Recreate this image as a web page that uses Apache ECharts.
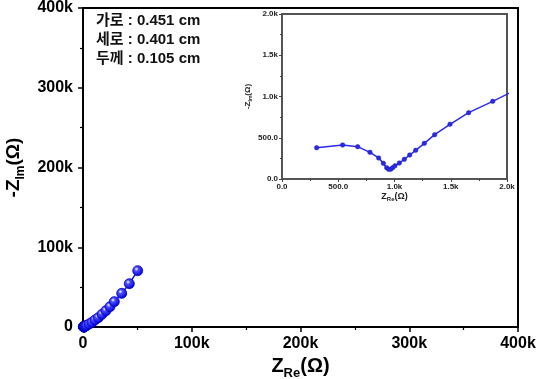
<!DOCTYPE html>
<html>
<head>
<meta charset="utf-8">
<script src="https://cdn.jsdelivr.net/npm/echarts@6/dist/echarts.min.js"></script>
<style>html,body{margin:0;padding:0;background:#fff;}#c{width:539px;height:379px;}</style>
</head>
<body>
<div id="c"></div>
<script>
// Impedance data (Ω): Z_Re and -Z_Im
const zRe = [308, 539, 673, 782, 859, 901, 930, 948, 966, 984, 1004, 1043, 1087, 1135, 1188, 1265, 1357, 1493, 1659, 1873, 2400,
  3400, 5800, 8300, 11000, 14100, 17500, 21100, 24800, 28800, 35600, 42600, 50300];
const zIm = [379, 412, 392, 323, 255, 190, 137, 117, 118, 137, 160, 194, 238, 291, 347, 432, 537, 663, 804, 941, 1300,
  2100, 3800, 5900, 8800, 11700, 15900, 20500, 25500, 31800, 42200, 54300, 70600];
const mainTicks = [0, 100000, 200000, 300000, 400000];
const insetTicks = [0, 500, 1000, 1500, 2000];
const sampleInfo = ['가로 : 0.451 cm', '세로 : 0.401 cm', '두께 : 0.105 cm'];

const pts = zRe.map((x, i) => [x, zIm[i]]);
const FONT = 'Liberation Sans, Arial, "Noto Sans CJK KR", sans-serif';
const mainFmt = v => v === 0 ? '0' : (v / 1000) + 'k';
const insetFmt = v => v === 0 ? '0.0' : (v < 1000 ? v.toFixed(1) : (v / 1000).toFixed(1) + 'k');

const ball = {
  type: 'radial', x: 0.38, y: 0.35, r: 0.65,
  colorStops: [{offset: 0, color: '#ffffff'}, {offset: 0.3, color: '#4a4aff'}, {offset: 1, color: '#0000d8'}]
};

const chart = echarts.init(document.getElementById('c'), null, {renderer: 'canvas'});
chart.setOption({
  animation: false,
  backgroundColor: '#fff',
  grid: [
    {left: 83, top: 8, width: 435, height: 319, show: true, borderColor: '#000', borderWidth: 2, backgroundColor: 'transparent',
      containLabel: false, outerBoundsMode: 'none'},
    {left: 282, top: 14, width: 225, height: 165, show: true, borderColor: '#555', borderWidth: 2, backgroundColor: '#fff', z: 5,
      containLabel: false, outerBoundsMode: 'none'}
  ],
  xAxis: [
    {
      gridIndex: 0, type: 'value', min: mainTicks[0], max: mainTicks[mainTicks.length - 1], interval: 100000,
      axisLine: {onZero: false, lineStyle: {color: '#000', width: 2}},
      axisTick: {inside: false, length: 5, lineStyle: {width: 1.5, color: '#000'}},
      minorTick: {show: true, splitNumber: 2, length: 3, lineStyle: {color: '#000', width: 1.2}},
      splitLine: {show: false},
      axisLabel: {formatter: mainFmt, fontFamily: FONT, fontWeight: 'bold', fontSize: 16, color: '#000', margin: 9},
      name: '{a|Z}{b|Re}{a|(Ω)}', nameLocation: 'middle', nameGap: 23,
      nameTextStyle: {rich: {a: {fontFamily: FONT, fontWeight: 'bold', fontSize: 20, color: '#000'},
        b: {fontFamily: FONT, fontWeight: 'bold', fontSize: 13, color: '#000', verticalAlign: 'bottom', padding: [0, 0, -3, 0]}}}
    },
    {
      gridIndex: 1, type: 'value', min: insetTicks[0], max: insetTicks[insetTicks.length - 1], interval: 500,
      axisLine: {onZero: false, lineStyle: {color: '#555', width: 2}},
      axisTick: {inside: false, length: 3, lineStyle: {width: 1, color: '#444'}},
      minorTick: {show: true, splitNumber: 2, length: 2, lineStyle: {color: '#444', width: 1}},
      splitLine: {show: false},
      axisLabel: {formatter: insetFmt, fontFamily: FONT, fontWeight: 'bold', fontSize: 8, color: '#222', margin: 4},
      name: '{a|Z}{b|Re}{a|(Ω)}', nameLocation: 'middle', nameGap: 13, z: 6,
      nameTextStyle: {rich: {a: {fontFamily: FONT, fontWeight: 'bold', fontSize: 9, color: '#222'},
        b: {fontFamily: FONT, fontWeight: 'bold', fontSize: 6, color: '#222', verticalAlign: 'bottom', padding: [0, 0, -1, 0]}}}
    }
  ],
  yAxis: [
    {
      gridIndex: 0, type: 'value', min: mainTicks[0], max: mainTicks[mainTicks.length - 1], interval: 100000,
      axisLine: {onZero: false, lineStyle: {color: '#000', width: 2}},
      axisTick: {inside: false, length: 5, lineStyle: {width: 1.5, color: '#000'}},
      minorTick: {show: true, splitNumber: 2, length: 3, lineStyle: {color: '#000', width: 1.2}},
      splitLine: {show: false},
      axisLabel: {formatter: mainFmt, fontFamily: FONT, fontWeight: 'bold', fontSize: 16, color: '#000', margin: 10},
      name: '{a|-Z}{b|Im}{a|(Ω)}', nameLocation: 'middle', nameGap: 51, nameRotate: 90,
      nameTextStyle: {rich: {a: {fontFamily: FONT, fontWeight: 'bold', fontSize: 19, color: '#000'},
        b: {fontFamily: FONT, fontWeight: 'bold', fontSize: 12, color: '#000', verticalAlign: 'bottom', padding: [0, 0, -3, 0]}}}
    },
    {
      gridIndex: 1, type: 'value', min: insetTicks[0], max: insetTicks[insetTicks.length - 1], interval: 500,
      axisLine: {onZero: false, lineStyle: {color: '#555', width: 2}},
      axisTick: {inside: false, length: 3, lineStyle: {width: 1, color: '#444'}},
      minorTick: {show: true, splitNumber: 2, length: 2, lineStyle: {color: '#444', width: 1}},
      splitLine: {show: false},
      axisLabel: {formatter: insetFmt, fontFamily: FONT, fontWeight: 'bold', fontSize: 8, color: '#222', margin: 4},
      name: '{a|-Z}{b|Im}{a|(Ω)}', nameLocation: 'middle', nameGap: 30, nameRotate: 90, z: 6,
      nameTextStyle: {rich: {a: {fontFamily: FONT, fontWeight: 'bold', fontSize: 8, color: '#222'},
        b: {fontFamily: FONT, fontWeight: 'bold', fontSize: 5, color: '#222', verticalAlign: 'bottom', padding: [0, 0, -1, 0]}}}
    }
  ],
  series: [
    {
      type: 'line', xAxisIndex: 0, yAxisIndex: 0, data: pts, z: 2,
      symbol: 'circle', symbolSize: 10,
      lineStyle: {color: '#1010e0', width: 1.5},
      itemStyle: {color: ball, borderColor: '#0000c8', borderWidth: 0.8}
    },
    {
      type: 'line', xAxisIndex: 1, yAxisIndex: 1, data: pts, z: 7, clip: true,
      symbol: 'circle', symbolSize: 4.5,
      lineStyle: {color: '#2a2af0', width: 1.5},
      itemStyle: {color: '#2a2ae0', borderColor: '#1a1ad0', borderWidth: 0.5}
    }
  ],
  graphic: sampleInfo.map((t, i) => ({
    type: 'text', left: 96, top: 13 + i * 19.3, z: 10,
    style: {text: t, fontFamily: FONT, fontWeight: 'bold', fontSize: 15, fill: '#111'}
  }))
});
</script>
</body>
</html>
